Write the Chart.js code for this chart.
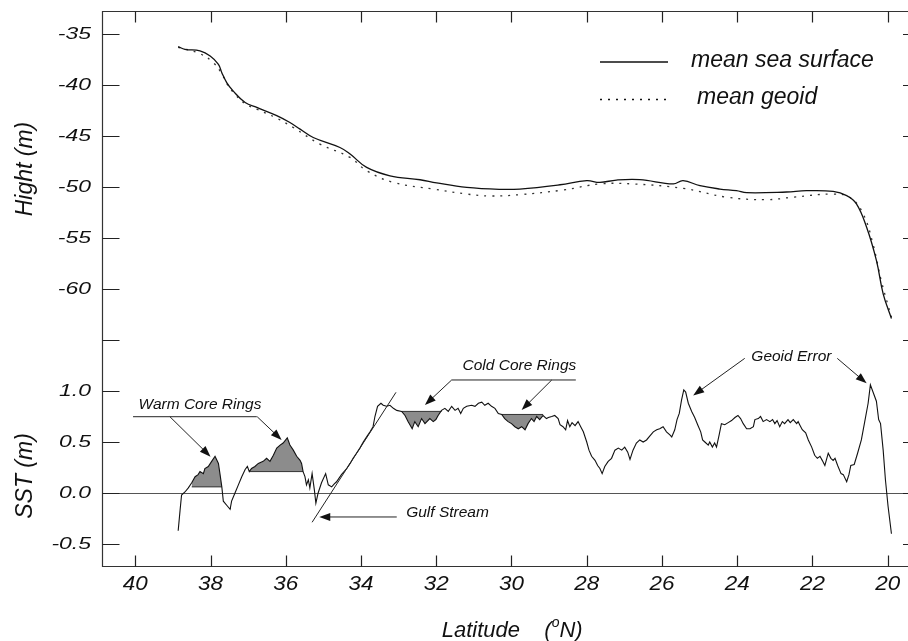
<!DOCTYPE html>
<html>
<head>
<meta charset="utf-8">
<title>Mean sea surface, geoid and SST</title>
<script src="https://cdn.jsdelivr.net/npm/chart.js@4.4.1/dist/chart.umd.min.js"></script>
<style>
    html, body { margin: 0; padding: 0; background: #fff; }
    #wrap { width: 908px; height: 641px; }
</style>
</head>
<body>
<div id="wrap"><canvas id="chart" width="908" height="641"></canvas></div>
<script>
// ---------------------------------------------------------
// DATA
// ---------------------------------------------------------

// mean sea surface, Hight (m) against latitude (deg N)
const mssLat = [38.86, 38.68, 38.28, 38.01, 37.79, 37.70, 37.57, 37.40, 37.08, 36.77,
    36.24, 35.89, 35.62, 35.27, 34.56, 34.29, 33.85, 33.23, 32.43, 31.99,
    31.19, 30.31, 29.78, 28.71, 28.00, 27.65, 27.21, 26.59, 25.70, 25.44,
    24.99, 24.46, 24.02, 23.75, 22.69, 22.16, 21.45, 21.09, 20.83, 20.56,
    20.30, 20.12, 19.90];
const mssVal = [-36.24, -36.50, -36.66, -37.15, -37.97, -38.80, -39.76, -40.58, -41.72, -42.20,
    -43.00, -43.68, -44.33, -45.15, -46.13, -46.77, -48.08, -48.90, -49.29, -49.60,
    -50.04, -50.23, -50.20, -49.78, -49.38, -49.55, -49.32, -49.28, -49.70, -49.38,
    -49.87, -50.20, -50.36, -50.56, -50.49, -50.36, -50.43, -50.85, -51.66, -53.95,
    -57.20, -60.47, -62.90];

// mean geoid
const geoidLat = [38.86, 38.28, 37.93, 37.70, 37.57, 37.40, 37.08, 36.77, 36.24, 35.80,
    35.09, 34.29, 33.85, 33.14, 32.08, 31.19, 30.57, 29.78, 28.63, 27.65,
    26.77, 25.44, 24.28, 23.22, 22.51, 21.45, 21.01, 20.65, 20.39, 20.17,
    19.90];
const geoidVal = [-36.30, -36.93, -37.80, -38.90, -39.85, -40.70, -41.85, -42.37, -43.25, -44.17,
    -45.80, -47.10, -48.40, -49.55, -50.20, -50.69, -50.88, -50.75, -50.30, -49.70,
    -49.70, -50.13, -51.00, -51.24, -51.00, -50.69, -51.00, -52.64, -55.60, -59.20,
    -62.76];

// SST (m) profile
const sstLat = [
    38.86, 38.81, 38.77, 38.68, 38.59, 38.50, 38.41, 38.33, 38.28, 38.19,
    38.15, 38.06, 37.97, 37.88, 37.79, 37.75, 37.70, 37.66, 37.57, 37.48,
    37.44, 37.35, 37.26, 37.17, 37.08, 37.02, 36.97, 36.91, 36.82, 36.73,
    36.60, 36.51, 36.42, 36.33, 36.24, 36.15, 36.07, 35.96, 35.89, 35.80,
    35.71, 35.62, 35.58, 35.54, 35.49, 35.45, 35.40, 35.36, 35.30, 35.24,
    35.20, 35.14, 35.05, 34.94, 34.87, 34.78, 34.71, 34.65, 34.52, 34.38,
    34.29, 34.21, 34.12, 34.03, 33.94, 33.85, 33.76, 33.68, 33.63, 33.56,
    33.47, 33.41, 33.32, 33.23, 33.14, 33.05, 32.92, 32.83, 32.75, 32.64,
    32.57, 32.48, 32.39, 32.30, 32.17, 32.08, 32.01, 31.95, 31.86, 31.77,
    31.68, 31.59, 31.50, 31.42, 31.35, 31.28, 31.19, 31.06, 30.97, 30.88,
    30.79, 30.71, 30.62, 30.53, 30.44, 30.35, 30.26, 30.18, 30.09, 30.00,
    29.91, 29.82, 29.73, 29.64, 29.56, 29.47, 29.40, 29.33, 29.25, 29.16,
    29.07, 29.02, 28.93, 28.85, 28.76, 28.71, 28.63, 28.56, 28.51, 28.45,
    28.39, 28.31, 28.23, 28.16, 28.09, 28.00, 27.94, 27.87, 27.78, 27.71,
    27.65, 27.59, 27.52, 27.43, 27.34, 27.25, 27.16, 27.07, 26.99, 26.91,
    26.85, 26.77, 26.68, 26.59, 26.50, 26.41, 26.32, 26.23, 26.14, 26.06,
    25.97, 25.88, 25.79, 25.74, 25.66, 25.60, 25.54, 25.48, 25.42, 25.37,
    25.30, 25.21, 25.13, 25.04, 24.97, 24.92, 24.86, 24.77, 24.73, 24.66,
    24.60, 24.55, 24.48, 24.42, 24.33, 24.24, 24.15, 24.06, 23.98, 23.91,
    23.84, 23.75, 23.66, 23.57, 23.53, 23.44, 23.38, 23.31, 23.22, 23.13,
    23.06, 23.00, 22.94, 22.87, 22.80, 22.74, 22.65, 22.59, 22.51, 22.42,
    22.38, 22.34, 22.27, 22.18, 22.11, 22.02, 21.94, 21.87, 21.80, 21.74,
    21.67, 21.58, 21.51, 21.45, 21.40, 21.33, 21.24, 21.18, 21.09, 21.03,
    20.98, 20.89, 20.80, 20.70, 20.61, 20.52, 20.46, 20.39, 20.30, 20.24,
    20.19, 20.12, 20.06, 19.99, 19.90];
const sstVal = [
    -0.37, -0.17, -0.02, 0.01, 0.05, 0.10, 0.16, 0.18, 0.21, 0.19,
    0.24, 0.26, 0.31, 0.36, 0.29, 0.19, 0.06, -0.08, -0.12, -0.16,
    -0.08, 0.00, 0.08, 0.16, 0.23, 0.26, 0.21, 0.24, 0.26, 0.29,
    0.31, 0.34, 0.31, 0.37, 0.44, 0.47, 0.49, 0.54, 0.47, 0.42,
    0.36, 0.32, 0.29, 0.21, 0.16, 0.08, 0.13, 0.05, 0.19, 0.03,
    -0.10, 0.00, 0.10, 0.19, 0.08, 0.06, 0.09, 0.11, 0.18, 0.24,
    0.29, 0.34, 0.39, 0.44, 0.50, 0.55, 0.60, 0.65, 0.75, 0.85,
    0.88, 0.86, 0.85, 0.86, 0.83, 0.81, 0.80, 0.76, 0.70, 0.63,
    0.70, 0.65, 0.73, 0.68, 0.73, 0.70, 0.72, 0.76, 0.81, 0.83,
    0.80, 0.85, 0.81, 0.83, 0.78, 0.83, 0.85, 0.86, 0.85, 0.88,
    0.89, 0.86, 0.88, 0.85, 0.83, 0.78, 0.77, 0.73, 0.70, 0.68,
    0.65, 0.63, 0.65, 0.62, 0.68, 0.73, 0.70, 0.75, 0.72, 0.76,
    0.73, 0.74, 0.75, 0.76, 0.73, 0.67, 0.65, 0.62, 0.71, 0.65,
    0.69, 0.66, 0.70, 0.65, 0.60, 0.50, 0.42, 0.36, 0.32, 0.27,
    0.24, 0.19, 0.26, 0.31, 0.34, 0.42, 0.44, 0.42, 0.45, 0.40,
    0.33, 0.42, 0.49, 0.52, 0.50, 0.52, 0.56, 0.60, 0.62, 0.63,
    0.65, 0.60, 0.57, 0.55, 0.62, 0.72, 0.78, 0.91, 1.01, 0.99,
    0.88, 0.80, 0.74, 0.66, 0.60, 0.52, 0.50, 0.47, 0.50, 0.45,
    0.49, 0.45, 0.57, 0.68, 0.67, 0.69, 0.71, 0.74, 0.76, 0.73,
    0.68, 0.63, 0.63, 0.65, 0.72, 0.73, 0.75, 0.70, 0.72, 0.70,
    0.72, 0.68, 0.71, 0.65, 0.70, 0.68, 0.72, 0.69, 0.72, 0.68,
    0.70, 0.67, 0.62, 0.59, 0.52, 0.45, 0.37, 0.34, 0.36, 0.32,
    0.27, 0.39, 0.34, 0.32, 0.34, 0.27, 0.19, 0.18, 0.11, 0.18,
    0.27, 0.28, 0.39, 0.52, 0.70, 0.88, 1.06, 0.99, 0.90, 0.72,
    0.68, 0.42, 0.13, -0.13, -0.40];

// shaded rings: latitude span and the level they are cut at
const ringFrom = [38.50, 36.97, 32.92, 30.26];
const ringTo = [37.70, 35.54, 31.86, 29.16];
const ringBase = [0.06, 0.21, 0.80, 0.77];

// axis ticks
const latTicks = [40, 38, 36, 34, 32, 30, 28, 26, 24, 22, 20];
const sstTicks = [-0.5, 0.0, 0.5, 1.0];
const sstTickLabels = ["-0.5", "0.0", "0.5", "1.0"];
const hightTicks = [-65, -60, -55, -50, -45, -40, -35];
const hightTickLabels = ["", "-60", "-55", "-50", "-45", "-40", "-35"];

// annotations (lat, SST)
const noteText = ["Warm Core Rings", "Cold Core Rings", "Gulf Stream", "Geoid Error"];
const noteAt = [[38.28, 0.82], [29.79, 1.21], [31.70, -0.235], [22.56, 1.29]];
const noteLines = [
    [[40.06, 0.748], [36.77, 0.748]],
    [[31.59, 1.108], [28.29, 1.108]],
    [[35.30, -0.287], [33.07, 0.987]]
];
const noteArrows = [
    [[39.08, 0.748], [38.00, 0.356]],
    [[36.76, 0.748], [36.11, 0.52]],
    [[31.59, 1.108], [32.30, 0.863]],
    [[28.93, 1.108], [29.73, 0.814]],
    [[33.05, -0.235], [35.11, -0.235]],
    [[23.80, 1.32], [25.17, 0.956]],
    [[21.34, 1.32], [20.56, 1.075]]
];

(function () {
    "use strict";

    const FONT = '"Liberation Sans", Arial, Helvetica, sans-serif';
    const INK = "#111";

    function pts(xs, ys) {
        const n = Math.min(xs.length, ys.length);
        const out = [];
        for (let i = 0; i < n; i++) out.push({ x: xs[i], y: ys[i] });
        return out;
    }

    // ---------------------------------------------------------
    // Datasets
    // ---------------------------------------------------------
    const datasets = [
        {
            label: "SST",
            data: pts(sstLat, sstVal),
            yAxisID: "y",
            borderColor: INK,
            borderWidth: 1.1,
            tension: 0,
            fill: false,
            order: 0,
        },
        {
            label: "mean sea surface",
            data: pts(mssLat, mssVal),
            yAxisID: "yH",
            borderColor: INK,
            borderWidth: 1.3,
            tension: 0.4,
            fill: false,
            order: 0,
        },
        {
            label: "mean geoid",
            data: pts(geoidLat, geoidVal),
            yAxisID: "yH",
            borderColor: "#333",
            borderWidth: 1.3,
            borderDash: [2, 6],
            tension: 0.4,
            fill: false,
            order: 0,
        },
    ];

    ringFrom.forEach((from, i) => {
        const to = ringTo[i];
        const seg = pts(sstLat, sstVal).filter((p) => p.x <= from && p.x >= to);
        datasets.push({
            label: "ring " + (i + 1),
            data: seg,
            yAxisID: "y",
            borderWidth: 0,
            borderColor: "rgba(0,0,0,0)",
            backgroundColor: "#8c8c8c",
            fill: { value: ringBase[i] },
            tension: 0,
            order: 3,
        });
        datasets.push({
            label: "ring base " + (i + 1),
            data: [{ x: from, y: ringBase[i] }, { x: to, y: ringBase[i] }],
            yAxisID: "y",
            borderColor: "#333",
            borderWidth: 1,
            fill: false,
            order: 1,
        });
    });

    // ---------------------------------------------------------
    // Text helper (horizontal stretch like the original artwork)
    // ---------------------------------------------------------
    function text(ctx, str, x, y, size, align, base, sx) {
        ctx.save();
        ctx.font = "italic " + size + "px " + FONT;
        ctx.textAlign = align;
        ctx.textBaseline = base;
        ctx.fillStyle = INK;
        ctx.translate(x, y);
        ctx.scale(sx || 1, 1);
        ctx.fillText(str, 0, 0);
        ctx.restore();
    }

    function arrow(ctx, x1, y1, x2, y2) {
        const a = Math.atan2(y2 - y1, x2 - x1);
        const len = 11, half = 4;
        ctx.beginPath();
        ctx.moveTo(x1, y1);
        ctx.lineTo(x2 - Math.cos(a) * len * 0.8, y2 - Math.sin(a) * len * 0.8);
        ctx.stroke();
        ctx.beginPath();
        ctx.moveTo(x2, y2);
        ctx.lineTo(x2 - Math.cos(a) * len - Math.sin(a) * half, y2 - Math.sin(a) * len + Math.cos(a) * half);
        ctx.lineTo(x2 - Math.cos(a) * len + Math.sin(a) * half, y2 - Math.sin(a) * len - Math.cos(a) * half);
        ctx.closePath();
        ctx.fill();
    }

    // ---------------------------------------------------------
    // Axes, frame, labels and notes
    // ---------------------------------------------------------
    const framePlugin = {
        id: "frame",
        beforeDatasetsDraw(chart) {
            const { ctx, chartArea: ca, scales } = chart;
            const y0 = Math.round(scales.y.getPixelForValue(0)) + 0.5;
            ctx.save();
            ctx.strokeStyle = "#555";
            ctx.lineWidth = 1.2;
            ctx.beginPath();
            ctx.moveTo(ca.left, y0);
            ctx.lineTo(ca.right, y0);
            ctx.stroke();
            ctx.restore();
        },
        afterDatasetsDraw(chart) {
            const { ctx, chartArea: ca, scales } = chart;
            const sx = scales.x, sy = scales.y, sh = scales.yH;
            const L = ca.left + 0.5, T = ca.top + 0.5, B = ca.bottom + 0.5, R = ca.right;

            ctx.save();
            ctx.lineWidth = 1.2;
            ctx.strokeStyle = "#333";
            ctx.beginPath();
            ctx.moveTo(R, T); ctx.lineTo(L, T); ctx.lineTo(L, B); ctx.lineTo(R, B);
            ctx.stroke();

            // inward ticks
            ctx.strokeStyle = "#222";
            ctx.beginPath();
            latTicks.forEach((v) => {
                const x = Math.round(sx.getPixelForValue(v)) + 0.5;
                ctx.moveTo(x, T); ctx.lineTo(x, T + 11);
                ctx.moveTo(x, B); ctx.lineTo(x, B - 11);
            });
            const yTicks = sstTicks.map((v) => sy.getPixelForValue(v))
                .concat(hightTicks.map((v) => sh.getPixelForValue(v)));
            yTicks.forEach((p) => {
                const y = Math.round(p) + 0.5;
                ctx.moveTo(L, y); ctx.lineTo(L + 17, y);
                ctx.moveTo(R, y); ctx.lineTo(R - 5, y);
            });
            ctx.stroke();

            // tick labels
            latTicks.forEach((v) => {
                text(ctx, String(v), sx.getPixelForValue(v), 585, 19.5, "center", "middle", 1.15);
            });
            sstTicks.forEach((v, i) => {
                text(ctx, sstTickLabels[i], 91, sy.getPixelForValue(v), 17, "right", "middle", 1.35);
            });
            hightTicks.forEach((v, i) => {
                text(ctx, hightTickLabels[i], 91, sh.getPixelForValue(v), 17, "right", "middle", 1.35);
            });

            // axis titles
            ctx.save();
            ctx.translate(32, 169);
            ctx.rotate(-Math.PI / 2);
            text(ctx, "Hight (m)", 0, 0, 23, "center", "alphabetic");
            ctx.restore();
            ctx.save();
            ctx.translate(32, 476);
            ctx.rotate(-Math.PI / 2);
            text(ctx, "SST (m)", 0, 0, 23, "center", "alphabetic");
            ctx.restore();

            text(ctx, "Latitude", 441.7, 636.5, 22, "left", "alphabetic");
            ctx.font = "italic 22px " + FONT;
            const pw = ctx.measureText("(").width;
            text(ctx, "(", 544.3, 636.5, 22, "left", "alphabetic");
            text(ctx, "o", 544.3 + pw, 627, 14, "left", "alphabetic");
            ctx.font = "italic 14px " + FONT;
            const ow = ctx.measureText("o").width;
            text(ctx, "N)", 544.3 + pw + ow, 636.5, 22, "left", "alphabetic");

            // legend
            ctx.strokeStyle = INK;
            ctx.lineWidth = 1.3;
            ctx.beginPath();
            ctx.moveTo(600, 62); ctx.lineTo(668, 62);
            ctx.stroke();
            ctx.setLineDash([2, 6]);
            ctx.beginPath();
            ctx.moveTo(600, 99.5); ctx.lineTo(668, 99.5);
            ctx.stroke();
            ctx.setLineDash([]);
            text(ctx, "mean sea surface", 691, 67, 23, "left", "alphabetic");
            text(ctx, "mean geoid", 697, 104, 23, "left", "alphabetic");

            // annotations
            ctx.strokeStyle = "#222";
            ctx.fillStyle = "#111";
            ctx.lineWidth = 1;
            noteLines.forEach((seg) => {
                ctx.beginPath();
                ctx.moveTo(sx.getPixelForValue(seg[0][0]), sy.getPixelForValue(seg[0][1]));
                ctx.lineTo(sx.getPixelForValue(seg[1][0]), sy.getPixelForValue(seg[1][1]));
                ctx.stroke();
            });
            noteArrows.forEach((seg) => {
                arrow(ctx,
                    sx.getPixelForValue(seg[0][0]), sy.getPixelForValue(seg[0][1]),
                    sx.getPixelForValue(seg[1][0]), sy.getPixelForValue(seg[1][1]));
            });
            noteText.forEach((t, i) => {
                text(ctx, t, sx.getPixelForValue(noteAt[i][0]), sy.getPixelForValue(noteAt[i][1]),
                    15.5, "center", "alphabetic");
            });

            ctx.restore();
        },
    };

    // ---------------------------------------------------------
    // Chart
    // ---------------------------------------------------------
    new Chart(document.getElementById("chart"), {
        type: "line",
        data: { datasets: datasets },
        options: {
            responsive: false,
            animation: false,
            devicePixelRatio: 1,
            layout: { padding: { left: 102, top: 11, right: 0, bottom: 75 } },
            elements: { point: { radius: 0 } },
            plugins: {
                legend: { display: false },
                tooltip: { enabled: false },
            },
            scales: {
                x: { type: "linear", reverse: true, min: 19.46, max: 40.885, display: false },
                y: { type: "linear", min: -0.7157, max: 4.7255, display: false },
                yH: { type: "linear", min: -87.157, max: -32.745, display: false },
            },
        },
        plugins: [framePlugin],
    });
})();
</script>
</body>
</html>
